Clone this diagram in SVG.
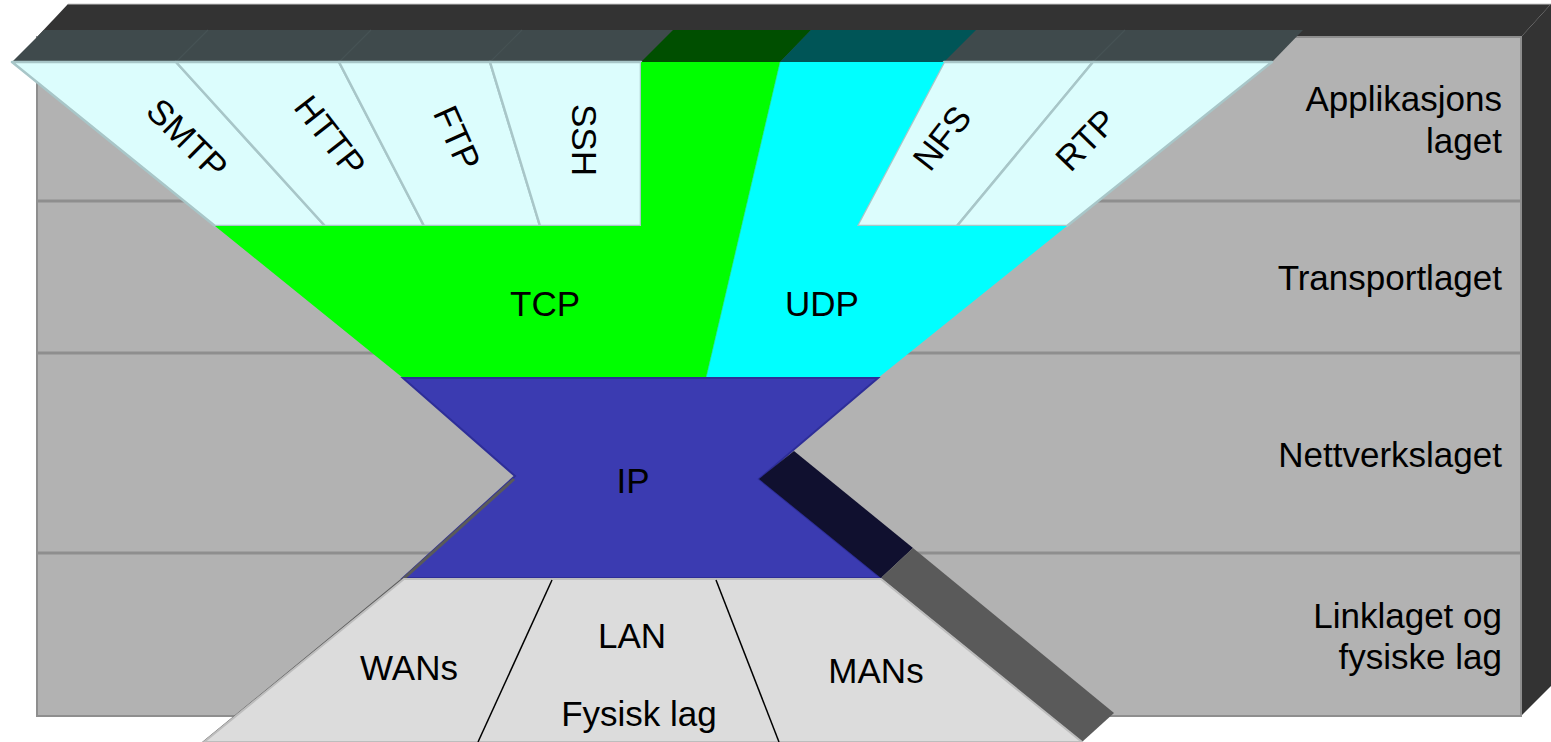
<svg xmlns="http://www.w3.org/2000/svg" width="1551" height="742" viewBox="0 0 1551 742">
<style>
text{font-family:"Liberation Sans",Arial,sans-serif;font-size:35px;fill:#000}
.mid{text-anchor:middle}
.end{text-anchor:end}
.app{fill:#dcfdfd;stroke:#a8c6c8;stroke-width:2.5;stroke-linejoin:round}
.sep{stroke:#8e8e8e;stroke-width:3}
.lk{stroke:#000;stroke-width:1.5}
</style>
<rect width="1551" height="742" fill="#ffffff"/>
<g id="box">
  <polygon points="37,37 68,4 1551,4 1521,37" fill="#333333"/>
  <line x1="68" y1="4" x2="1551" y2="4" stroke="#c8c8c8" stroke-width="1"/>
  <polygon points="1521,37 1551,4 1551,686 1521,716" fill="#333333"/>
  <rect x="37" y="37" width="1484" height="679" fill="#b2b2b2" stroke="#8e8e8e" stroke-width="2"/>
  <line class="sep" x1="37" y1="201" x2="1521" y2="201"/>
  <line class="sep" x1="37" y1="353" x2="1521" y2="353"/>
  <line class="sep" x1="37" y1="553" x2="1521" y2="553"/>
</g>
<g id="layer-labels">
  <text class="end" x="1502" y="111">Applikasjons</text>
  <text class="end" x="1502" y="153">laget</text>
  <text class="end" x="1502" y="290">Transportlaget</text>
  <text class="end" x="1502" y="467">Nettverkslaget</text>
  <text class="end" x="1502" y="628">Linklaget og</text>
  <text class="end" x="1502" y="669">fysiske lag</text>
</g>
<g id="funnel-top">
  <polygon points="12,62 44,30 1303,30 1272,62" fill="#3f4a4c"/>
  <g stroke="#465254" stroke-width="1.2">
    <line x1="176" y1="62" x2="208" y2="30"/>
    <line x1="339" y1="62" x2="371" y2="30"/>
    <line x1="490" y1="62" x2="522" y2="30"/>
    <line x1="1093" y1="62" x2="1125" y2="30"/>
  </g>
  <polygon points="641,62 673,30 811,30 780,62" fill="#004f00"/>
  <polygon points="780,62 811,30 976,30 944,62" fill="#005557"/>
</g>
<g id="smtp">
  <polygon class="app" points="12,62 176,62 325,226 215,226"/>
  <text class="mid" transform="translate(187,139) rotate(45)" x="0" y="12">SMTP</text>
</g>
<g id="http">
  <polygon class="app" points="176,62 339,62 424,226 325,226"/>
  <text class="mid" transform="translate(330,136) rotate(52)" x="0" y="12">HTTP</text>
</g>
<g id="ftp">
  <polygon class="app" points="339,62 490,62 540,226 424,226"/>
  <text class="mid" transform="translate(457,138) rotate(66)" x="0" y="12">FTP</text>
</g>
<g id="ssh">
  <polygon class="app" points="490,62 641,62 641,226 540,226"/>
  <text class="mid" transform="translate(584,140) rotate(90)" x="0" y="12">SSH</text>
</g>
<g id="nfs">
  <polygon class="app" points="944,62 1093,62 957,226 857,226"/>
  <text class="mid" transform="translate(942,138) rotate(-52)" x="0" y="12">NFS</text>
</g>
<g id="rtp">
  <polygon class="app" points="1093,62 1272,62 1067,226 957,226"/>
  <text class="mid" transform="translate(1086,140) rotate(-46)" x="0" y="12">RTP</text>
</g>
<g id="tcp">
  <polygon points="641,62 780,62 706,378 403,378 215,226 641,226" fill="#00ff00"/>
  <text class="mid" x="545" y="316">TCP</text>
</g>
<g id="udp">
  <polygon points="780,62 944,62 857,226 1067,226 878,378 706,378" fill="#00ffff"/>
  <line x1="780" y1="62" x2="706" y2="378" stroke="#22e06a" stroke-width="1" opacity="0.6"/>
  <text class="mid" x="822" y="316">UDP</text>
</g>
<g id="ip">
  <polygon points="403,378 878,378 759,479 881,578 403,578 515,476" fill="#3b3bb1" stroke="#2e2e98" stroke-width="2" stroke-linejoin="miter"/>
  <polygon points="759,479 794,451 913,548 881,578" fill="#10102f"/>
  <text class="mid" x="633" y="493">IP</text>
</g>
<g id="link">
  <polygon points="881,578 913,548 1114,713 1082,742" fill="#5a5a5a"/>
  <polyline points="514,479 402,580 202,744" fill="none" stroke="#5a5a5a" stroke-width="3"/>
  <polygon points="404,579 881,579 1082,742 204,742" fill="#dcdcdc" stroke="#bdbdbd" stroke-width="2"/>
  <line class="lk" x1="552" y1="580" x2="478" y2="742"/>
  <line class="lk" x1="716" y1="580" x2="779" y2="742"/>
  <text class="mid" x="409" y="680">WANs</text>
  <text class="mid" x="632" y="648">LAN</text>
  <text class="mid" x="639" y="726">Fysisk lag</text>
  <text class="mid" x="876" y="683">MANs</text>
</g>
</svg>
